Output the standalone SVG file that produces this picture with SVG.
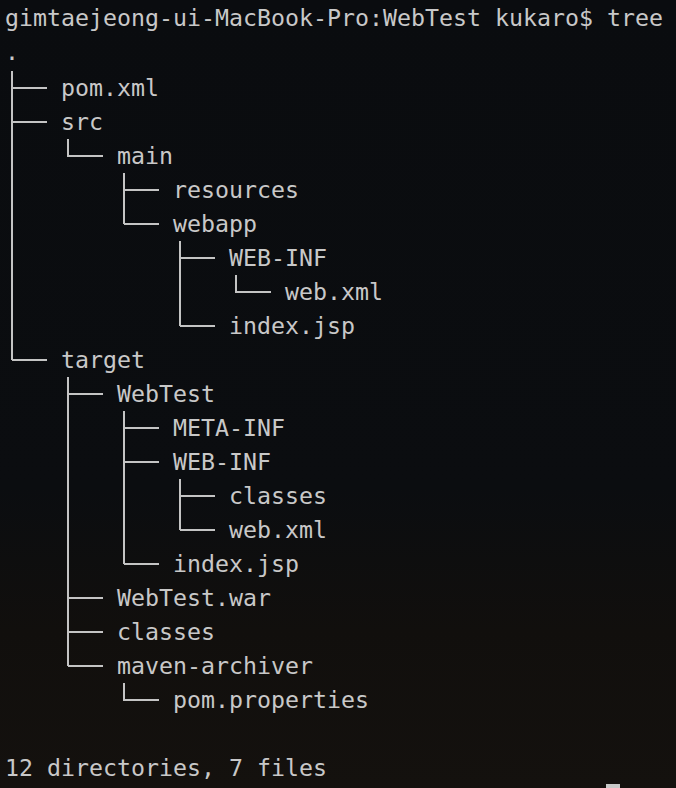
<svg xmlns="http://www.w3.org/2000/svg" width="676" height="788" viewBox="0 0 676 788">
  <defs>
    <linearGradient id="bg" x1="0" y1="0" x2="0" y2="1">
      <stop offset="0" stop-color="#0a0c0f"/>
      <stop offset="0.62" stop-color="#0b0d10"/>
      <stop offset="0.8" stop-color="#110f0d"/>
      <stop offset="1" stop-color="#14110e"/>
    </linearGradient>
    <style>
      text { font-family: "DejaVu Sans Mono", "Liberation Mono", monospace; font-size: 23.25px; fill: #c8c8c8; }
      .tree { fill: none; stroke: #c4c4c4; stroke-width: 2; }
    </style>
  </defs>
  <rect width="676" height="788" fill="url(#bg)"/>

  <g id="prompt"><text x="5" y="26">gimtaejeong-ui-MacBook-Pro:WebTest kukaro$ tree</text></g>
  <g id="root"><text x="5" y="60">.</text></g>

  <g id="connectors" class="tree">
    <!-- depth 0 -->
    <path d="M12 71 V360 M12 88 H47 M12 122 H47 M12 360 H47"/>
    <!-- src -> main -->
    <path d="M68 139 V156 H103"/>
    <!-- main children -->
    <path d="M124 173 V224 M124 190 H159 M124 224 H159"/>
    <!-- webapp children -->
    <path d="M180 241 V326 M180 258 H215 M180 326 H215"/>
    <!-- WEB-INF -> web.xml -->
    <path d="M236 275 V292 H271"/>
    <!-- target children -->
    <path d="M68 377 V666 M68 394 H103 M68 598 H103 M68 632 H103 M68 666 H103"/>
    <!-- WebTest children -->
    <path d="M124 411 V564 M124 428 H159 M124 462 H159 M124 564 H159"/>
    <!-- WEB-INF children -->
    <path d="M180 479 V530 M180 496 H215 M180 530 H215"/>
    <!-- maven-archiver -> pom.properties -->
    <path d="M124 683 V700 H159"/>
  </g>

  <g id="n-pom-xml"><text x="61" y="96">pom.xml</text></g>
  <g id="n-src"><text x="61" y="130">src</text></g>
  <g id="n-main"><text x="117" y="164">main</text></g>
  <g id="n-resources"><text x="173" y="198">resources</text></g>
  <g id="n-webapp"><text x="173" y="232">webapp</text></g>
  <g id="n-webapp-web-inf"><text x="229" y="266">WEB-INF</text></g>
  <g id="n-src-web-xml"><text x="285" y="300">web.xml</text></g>
  <g id="n-src-index-jsp"><text x="229" y="334">index.jsp</text></g>
  <g id="n-target"><text x="61" y="368">target</text></g>
  <g id="n-webtest"><text x="117" y="402">WebTest</text></g>
  <g id="n-meta-inf"><text x="173" y="436">META-INF</text></g>
  <g id="n-target-web-inf"><text x="173" y="470">WEB-INF</text></g>
  <g id="n-classes-inner"><text x="229" y="504">classes</text></g>
  <g id="n-target-web-xml"><text x="229" y="538">web.xml</text></g>
  <g id="n-target-index-jsp"><text x="173" y="572">index.jsp</text></g>
  <g id="n-webtest-war"><text x="117" y="606">WebTest.war</text></g>
  <g id="n-classes"><text x="117" y="640">classes</text></g>
  <g id="n-maven-archiver"><text x="117" y="674">maven-archiver</text></g>
  <g id="n-pom-properties"><text x="173" y="708">pom.properties</text></g>

  <g id="summary"><text x="5" y="776">12 directories, 7 files</text></g>
  <rect id="cursor" x="606" y="784" width="14" height="4" fill="#c8c8c8"/>
</svg>
